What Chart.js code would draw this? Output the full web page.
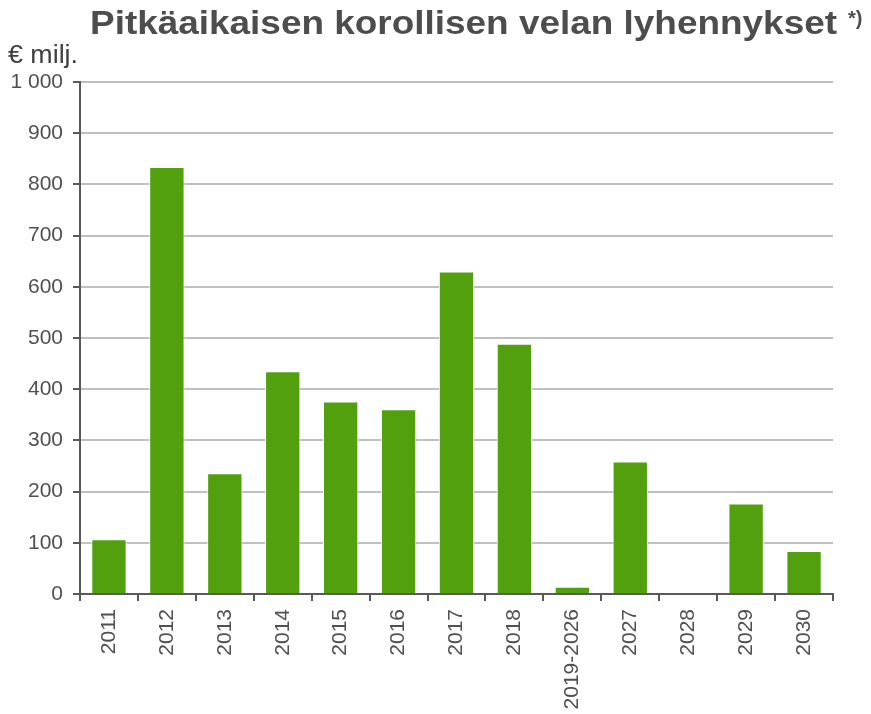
<!DOCTYPE html>
<html>
<head>
<meta charset="utf-8">
<script src="https://cdn.jsdelivr.net/npm/chart.js@4"></script>
<style>
  html, body { margin: 0; padding: 0; background: #fff; }
  #wrap { width: 871px; height: 714px; position: relative; }
</style>
</head>
<body>
<div id="wrap"><canvas id="chartDebt"></canvas></div>
<script>
// Data
const years = ['2011', '2012', '2013', '2014', '2015', '2016', '2017', '2018',
               '2019-2026', '2027', '2028', '2029', '2030'];
const repayments = [107, 834, 236, 435, 376, 361, 630, 489, 14, 259, 0, 177, 84];
const titleText = 'Pitkäaikaisen korollisen velan lyhennykset';
const unitText = '€ milj.';

const FONT = '"Liberation Sans", Arial, sans-serif';
const AXIS_DARK = '#595959';
const GRID_LIGHT = '#c0c0c0';
const TEXT = '#505050';

// Titteli ja yksikkö piirretään käsin
const textPlugin = {
    id: 'headerText',
    afterDraw(chart) {
        const ctx = chart.ctx;
        ctx.save();
        ctx.fillStyle = '#4d4d4d';
        ctx.font = 'bold 33px ' + FONT;
        ctx.textBaseline = 'alphabetic';
        ctx.textAlign = 'left';
        const w = ctx.measureText(titleText).width;
        const sx = 747 / w;   // leveämpi otsikko kuin fontti antaa
        ctx.save();
        ctx.translate(90, 34);
        ctx.scale(sx, 1);
        ctx.fillText(titleText, 0, 0);
        ctx.restore();
        ctx.font = 'bold 20px ' + FONT;
        ctx.fillText('*)', 848, 25);
        ctx.fillStyle = '#404040';
        ctx.font = '25px ' + FONT;
        const uw = ctx.measureText(unitText).width;
        ctx.save();
        ctx.translate(8, 63);
        ctx.scale(70 / uw, 1);
        ctx.fillText(unitText, 0, 0);
        ctx.restore();
        ctx.restore();
    }
};

new Chart(document.getElementById('chartDebt'), {
    type: 'bar',
    data: {
        labels: years,
        datasets: [{
            data: repayments,
            backgroundColor: '#52a00e',
            borderColor: '#ffffff',
            borderWidth: { left: 1, right: 1, top: 1, bottom: 0 },
            categoryPercentage: 1,
            barPercentage: 0.61
        }]
    },
    options: {
        responsive: true,
        maintainAspectRatio: false,
        animation: false,
        layout: { padding: { top: 82, right: 38, left: 0, bottom: 0 } },
        plugins: {
            legend: { display: false },
            tooltip: { enabled: false },
            title: { display: false }
        },
        scales: {
            x: {
                offset: true,
                grid: {
                    offset: true,
                    color: c => c.index === years.length ? GRID_LIGHT : 'rgba(0,0,0,0)',
                    tickColor: AXIS_DARK,
                    tickLength: 7,
                    lineWidth: 2
                },
                border: { color: AXIS_DARK, width: 2 },
                ticks: {
                    color: TEXT,
                    font: { family: FONT, size: 21 },
                    maxRotation: 90,
                    minRotation: 90,
                    padding: 8,
                    autoSkip: false
                },
                afterFit: s => { s.height = 120; }
            },
            y: {
                min: 0,
                max: 1000,
                ticks: {
                    stepSize: 100,
                    color: TEXT,
                    font: { family: FONT, size: 21 },
                    padding: 10,
                    callback: v => v >= 1000 ? '1 000' : String(v)
                },
                grid: {
                    color: GRID_LIGHT,
                    lineWidth: 2,
                    tickColor: AXIS_DARK,
                    tickLength: 7
                },
                border: { color: AXIS_DARK, width: 2 },
                afterFit: s => { s.width = 80; }
            }
        }
    },
    plugins: [textPlugin]
});
</script>
</body>
</html>
